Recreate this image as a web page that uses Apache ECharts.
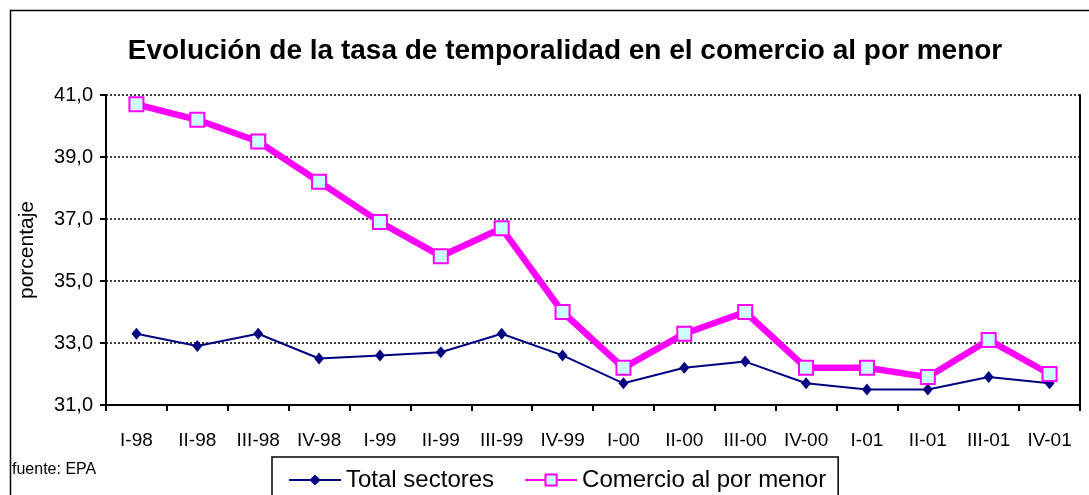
<!DOCTYPE html>
<html>
<head>
    <meta charset="utf-8">
    <script type="text/javascript" src="https://cdn.jsdelivr.net/npm/echarts@6/dist/echarts.min.js"></script>
    <style>
        body { margin: 0; background: #fff; }
    </style>
</head>
<body>

<div id="main" style="width: 1089px;height:495px;"></div>

<script type="text/javascript">

    // datos
    var trimestres = ['I-98', 'II-98', 'III-98', 'IV-98', 'I-99', 'II-99', 'III-99', 'IV-99',
                      'I-00', 'II-00', 'III-00', 'IV-00', 'I-01', 'II-01', 'III-01', 'IV-01'];
    var totalSectores = [33.3, 32.9, 33.3, 32.5, 32.6, 32.7, 33.3, 32.6,
                         31.7, 32.2, 32.4, 31.7, 31.5, 31.5, 31.9, 31.7];
    var comercioMenor = [40.7, 40.2, 39.5, 38.2, 36.9, 35.8, 36.7, 34.0,
                         32.2, 33.3, 34.0, 32.2, 32.2, 31.9, 33.1, 32.0];

    var myChart = echarts.init(document.getElementById('main'));

    var fuente = 'Liberation Sans, Arial, sans-serif';

    option = {
        backgroundColor: '#fff',
        animation: false,
        textStyle: { fontFamily: fuente },
        title: {
            text: 'Evolución de la tasa de temporalidad en el comercio al por menor',
            left: 560,
            top: 32,
            textAlign: 'center',
            textStyle: { fontSize: 28, fontWeight: 'bold', color: '#000', fontFamily: fuente }
        },
        graphic: [
            {
                type: 'rect',
                shape: { x: 10.5, y: 10.5, width: 1100, height: 500 },
                style: { fill: 'none', stroke: '#000', lineWidth: 1.5 }
            },
            {
                type: 'text',
                left: 12,
                top: 462,
                style: { text: 'fuente: EPA', fontSize: 16, fill: '#000', fontFamily: fuente }
            }
        ],
        legend: {
            left: 272,
            top: 457,
            padding: [11, 12, 20, 16],
            itemGap: 30,
            itemWidth: 52,
            itemHeight: 14,
            borderColor: '#000',
            borderWidth: 1.5,
            textStyle: { fontSize: 24, color: '#000', fontFamily: fuente },
            data: ['Total sectores', 'Comercio al por menor']
        },
        grid: {
            left: 106,
            right: 9,
            top: 95,
            bottom: 90,
            containLabel: false
        },
        xAxis: {
            type: 'category',
            data: trimestres,
            boundaryGap: true,
            axisLine: { show: true, lineStyle: { color: '#000', width: 2 } },
            axisTick: { show: true, interval: 0, length: 6, inside: false, lineStyle: { color: '#000', width: 2 } },
            axisLabel: { interval: 0, fontSize: 19, color: '#000', margin: 26, fontFamily: fuente }
        },
        yAxis: [
            {
                type: 'value',
                name: 'porcentaje',
                nameLocation: 'middle',
                nameGap: 68,
                nameRotate: 90,
                nameTextStyle: { fontSize: 21, color: '#000', fontFamily: fuente },
                min: 31,
                max: 41,
                interval: 2,
                axisLine: { show: true, lineStyle: { color: '#000', width: 2 } },
                axisTick: { show: true, length: 6, lineStyle: { color: '#000', width: 2 } },
                axisLabel: {
                    fontSize: 20, color: '#000', margin: 13, fontFamily: fuente,
                    formatter: function (v) { return v.toFixed(1).replace('.', ','); }
                },
                splitLine: { show: true, lineStyle: { color: '#000', type: [2, 2], width: 1.5 } }
            },
            {
                type: 'value',
                min: 31,
                max: 41,
                interval: 2,
                position: 'right',
                axisLine: { show: true, lineStyle: { color: '#000', width: 2 } },
                axisTick: { show: false },
                axisLabel: { show: false },
                splitLine: { show: false }
            }
        ],
        series: [
            {
                name: 'Total sectores',
                type: 'line',
                data: totalSectores,
                symbol: 'diamond',
                symbolSize: [10, 12],
                color: '#000080',
                lineStyle: { color: '#000080', width: 2 },
                itemStyle: { color: '#000080' },
                z: 3
            },
            {
                name: 'Comercio al por menor',
                type: 'line',
                data: comercioMenor,
                symbol: 'rect',
                symbolSize: 14,
                color: '#FF00FF',
                lineStyle: { color: '#FF00FF', width: 6.5 },
                itemStyle: { color: '#CCFFFF', borderColor: '#FF00FF', borderWidth: 2 },
                z: 4
            }
        ]
    };

    myChart.setOption(option);
</script>

</body>
</html>
